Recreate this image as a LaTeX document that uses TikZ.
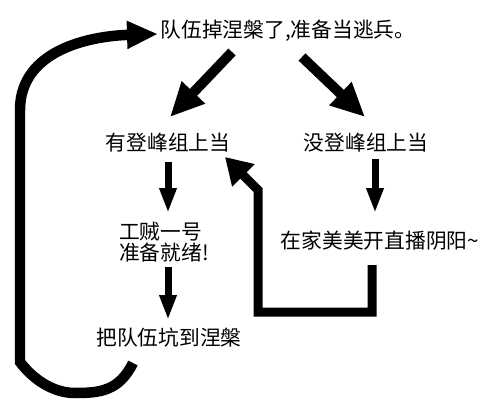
\documentclass[tikz,border=0pt]{standalone}
\usepackage{fontspec}
\newfontfamily\cjk{Noto Sans CJK SC}
\usetikzlibrary{arrows.meta}
\usetikzlibrary{calc}

\begin{document}
\begin{tikzpicture}[x=0.02cm, y=-0.02cm]
        \tikzstyle{txt}=[inner sep=0pt, font=\cjk\fontsize{11.8}{11.6}\selectfont]
        \tikzstyle{bigarrow}=[line width=0.2cm, -{Triangle[length=0.68cm, width=0.6cm]}]
        \tikzstyle{smallarrow}=[line width=0.14cm, -{Triangle[length=0.5cm, width=0.32cm]}]
        \tikzstyle{looparrow}=[line width=0.18cm, line join=miter, -{Triangle[length=0.52cm, width=0.6cm]}]
        \tikzstyle{backarrow}=[line width=0.21cm, -{Triangle[length=0.62cm, width=0.52cm]}]

        \useasboundingbox (0,0) rectangle (500,415);

        % 各个文字
        \node[txt] (top) at (288,31) {队伍掉涅槃了,准备当逃兵。};
        \node[txt] (yes) at (168,143) {有登峰组上当};
        \node[txt] (no) at (366,143) {没登峰组上当};
        \node[txt, align=left] (ready) at (164,242) {工贼一号\\准备就绪!};
        \node[txt] (home) at (380,241) {在家美美开直播阴阳\textasciitilde};
        \node[txt] (pit) at (169,338) {把队伍坑到涅槃};

        % 分叉
        \draw[bigarrow] ($(top)+(-56,21)$) -- ($(yes)+(2,-26)$);
        \draw[bigarrow] ($(top)+(14,26)$) -- ($(no)+(-1,-26)$);

        % 竖直箭头
        \draw[smallarrow] ($(yes)+(0,19)$) -- ($(ready)+(4,-29)$);
        \draw[smallarrow] ($(ready)+(4,25)$) -- ($(pit)+(-1,-18)$);
        \draw[smallarrow] ($(no)+(9,16)$) -- ($(home)+(-5,-28)$);

        % 回到左边
        \coordinate (corner) at (258,312);
        \draw[looparrow] ($(home)+(-8,24)$) |- (corner) -- ++(0,-122) -- ($(yes)+(57,14)$);

        % 大回环
        \draw[backarrow] ($(pit)+(-36,25)$) .. controls (119,391) and (100,393) .. (75,393)
            .. controls (52,393) and (32,378) .. (20,362) -- (20,110)
            .. controls (20,50) and (90,36) .. ($(top)+(-130,3)$);
    \end{tikzpicture}
\end{document}
